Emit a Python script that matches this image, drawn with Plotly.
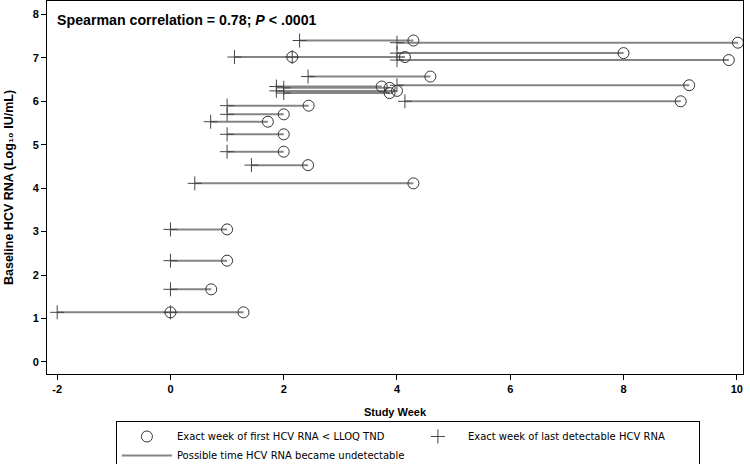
import plotly.graph_objects as go

# Baseline HCV RNA (log10 IU/mL) per subject
baseline = [7.40, 7.35, 7.11, 7.02, 7.02, 6.95, 6.57, 6.37, 6.34, 6.31, 6.24, 6.19,
            6.00, 5.90, 5.70, 5.53, 5.24, 4.84, 4.53, 4.11, 3.05, 2.33, 1.67, 1.14, 1.14]
# Exact week of last detectable HCV RNA
last_detect = [2.28, 4.00, 4.00, 1.13, 2.15, 4.00, 2.43, 4.00, 1.87, 2.00, 1.87, 2.00,
               4.14, 1.00, 1.00, 0.71, 1.00, 1.00, 1.43, 0.43, 0.00, 0.00, 0.00, -2.00, 0.00]
# Exact week of first HCV RNA < LLOQ TND
first_tnd = [4.29, 10.02, 8.00, 2.15, 4.14, 9.86, 4.59, 9.16, 3.73, 3.87, 4.00, 3.87,
             9.01, 2.44, 2.00, 1.72, 2.00, 2.00, 2.43, 4.29, 1.00, 1.00, 0.72, 0.00, 1.29]

x_ticks = [-2, 0, 2, 4, 6, 8, 10]
y_ticks = [0, 1, 2, 3, 4, 5, 6, 7, 8]

seg_x, seg_y = [], []
for b, l, f in zip(baseline, last_detect, first_tnd):
    seg_x += [l, f, None]
    seg_y += [b, b, None]

fig = go.Figure()
fig.add_trace(go.Scatter(
    x=seg_x, y=seg_y, mode="lines",
    name="Possible time HCV RNA became undetectable",
    line=dict(color="#858585", width=2), legendrank=3,
))
fig.add_trace(go.Scatter(
    x=first_tnd, y=baseline, mode="markers",
    name="Exact week of first HCV RNA < LLOQ TND",
    marker=dict(symbol="circle-open", size=11, color="#333333", line=dict(width=1)),
    legendrank=1,
))
fig.add_trace(go.Scatter(
    x=last_detect, y=baseline, mode="markers",
    name="Exact week of last detectable HCV RNA",
    marker=dict(symbol="cross-thin-open", size=10, color="#444444", line=dict(width=1, color="#444444")),
    legendrank=2,
))

tick_font = dict(family="Liberation Sans", size=11, color="black", weight="bold")
fig.update_layout(
    width=750, height=464,
    margin=dict(l=46.5, r=7, t=1, b=90, autoexpand=False),
    paper_bgcolor="white", plot_bgcolor="white",
    showlegend=True,
    legend=dict(
        orientation="h", x=0.099, xanchor="left", y=-0.126, yanchor="top",
        bordercolor="black", borderwidth=1,
        font=dict(family="DejaVu Sans", size=10, color="black"),
        entrywidth=226, itemwidth=50, traceorder="normal",
    ),
    xaxis=dict(
        range=[-2.18, 10.11], tickvals=x_ticks, ticktext=[str(v) for v in x_ticks],
        showgrid=False, zeroline=False, showline=True, linecolor="black", linewidth=1,
        mirror=True, ticks="outside", ticklen=5, tickcolor="black",
        tickfont=tick_font, automargin=False,
        title=dict(text="<b>Study Week</b>", font=dict(family="Liberation Sans", size=11, color="black"), standoff=14),
    ),
    yaxis=dict(
        range=[-0.28, 8.31], tickvals=y_ticks, ticktext=[str(v) for v in y_ticks],
        showgrid=False, zeroline=False, showline=True, linecolor="black", linewidth=1,
        mirror=True, ticks="outside", ticklen=5, tickcolor="black",
        tickfont=tick_font, automargin=False,
        title=dict(text="<b>Baseline HCV RNA (Log₁₀ IU/mL)</b>", font=dict(family="Liberation Sans", size=12.5, color="black"), standoff=16),
    ),
    annotations=[dict(
        text="<b>Spearman correlation = 0.78; <i>P</i> < .0001</b>",
        xref="paper", yref="paper", x=0.012, y=0.977, xanchor="left", yanchor="top",
        showarrow=False, font=dict(family="Liberation Sans", size=14.2, color="black"),
    )],
)

fig.write_html("out.html", config={"displayModeBar": False},
               post_script="document.body.style.margin='0';document.body.style.padding='0';")
